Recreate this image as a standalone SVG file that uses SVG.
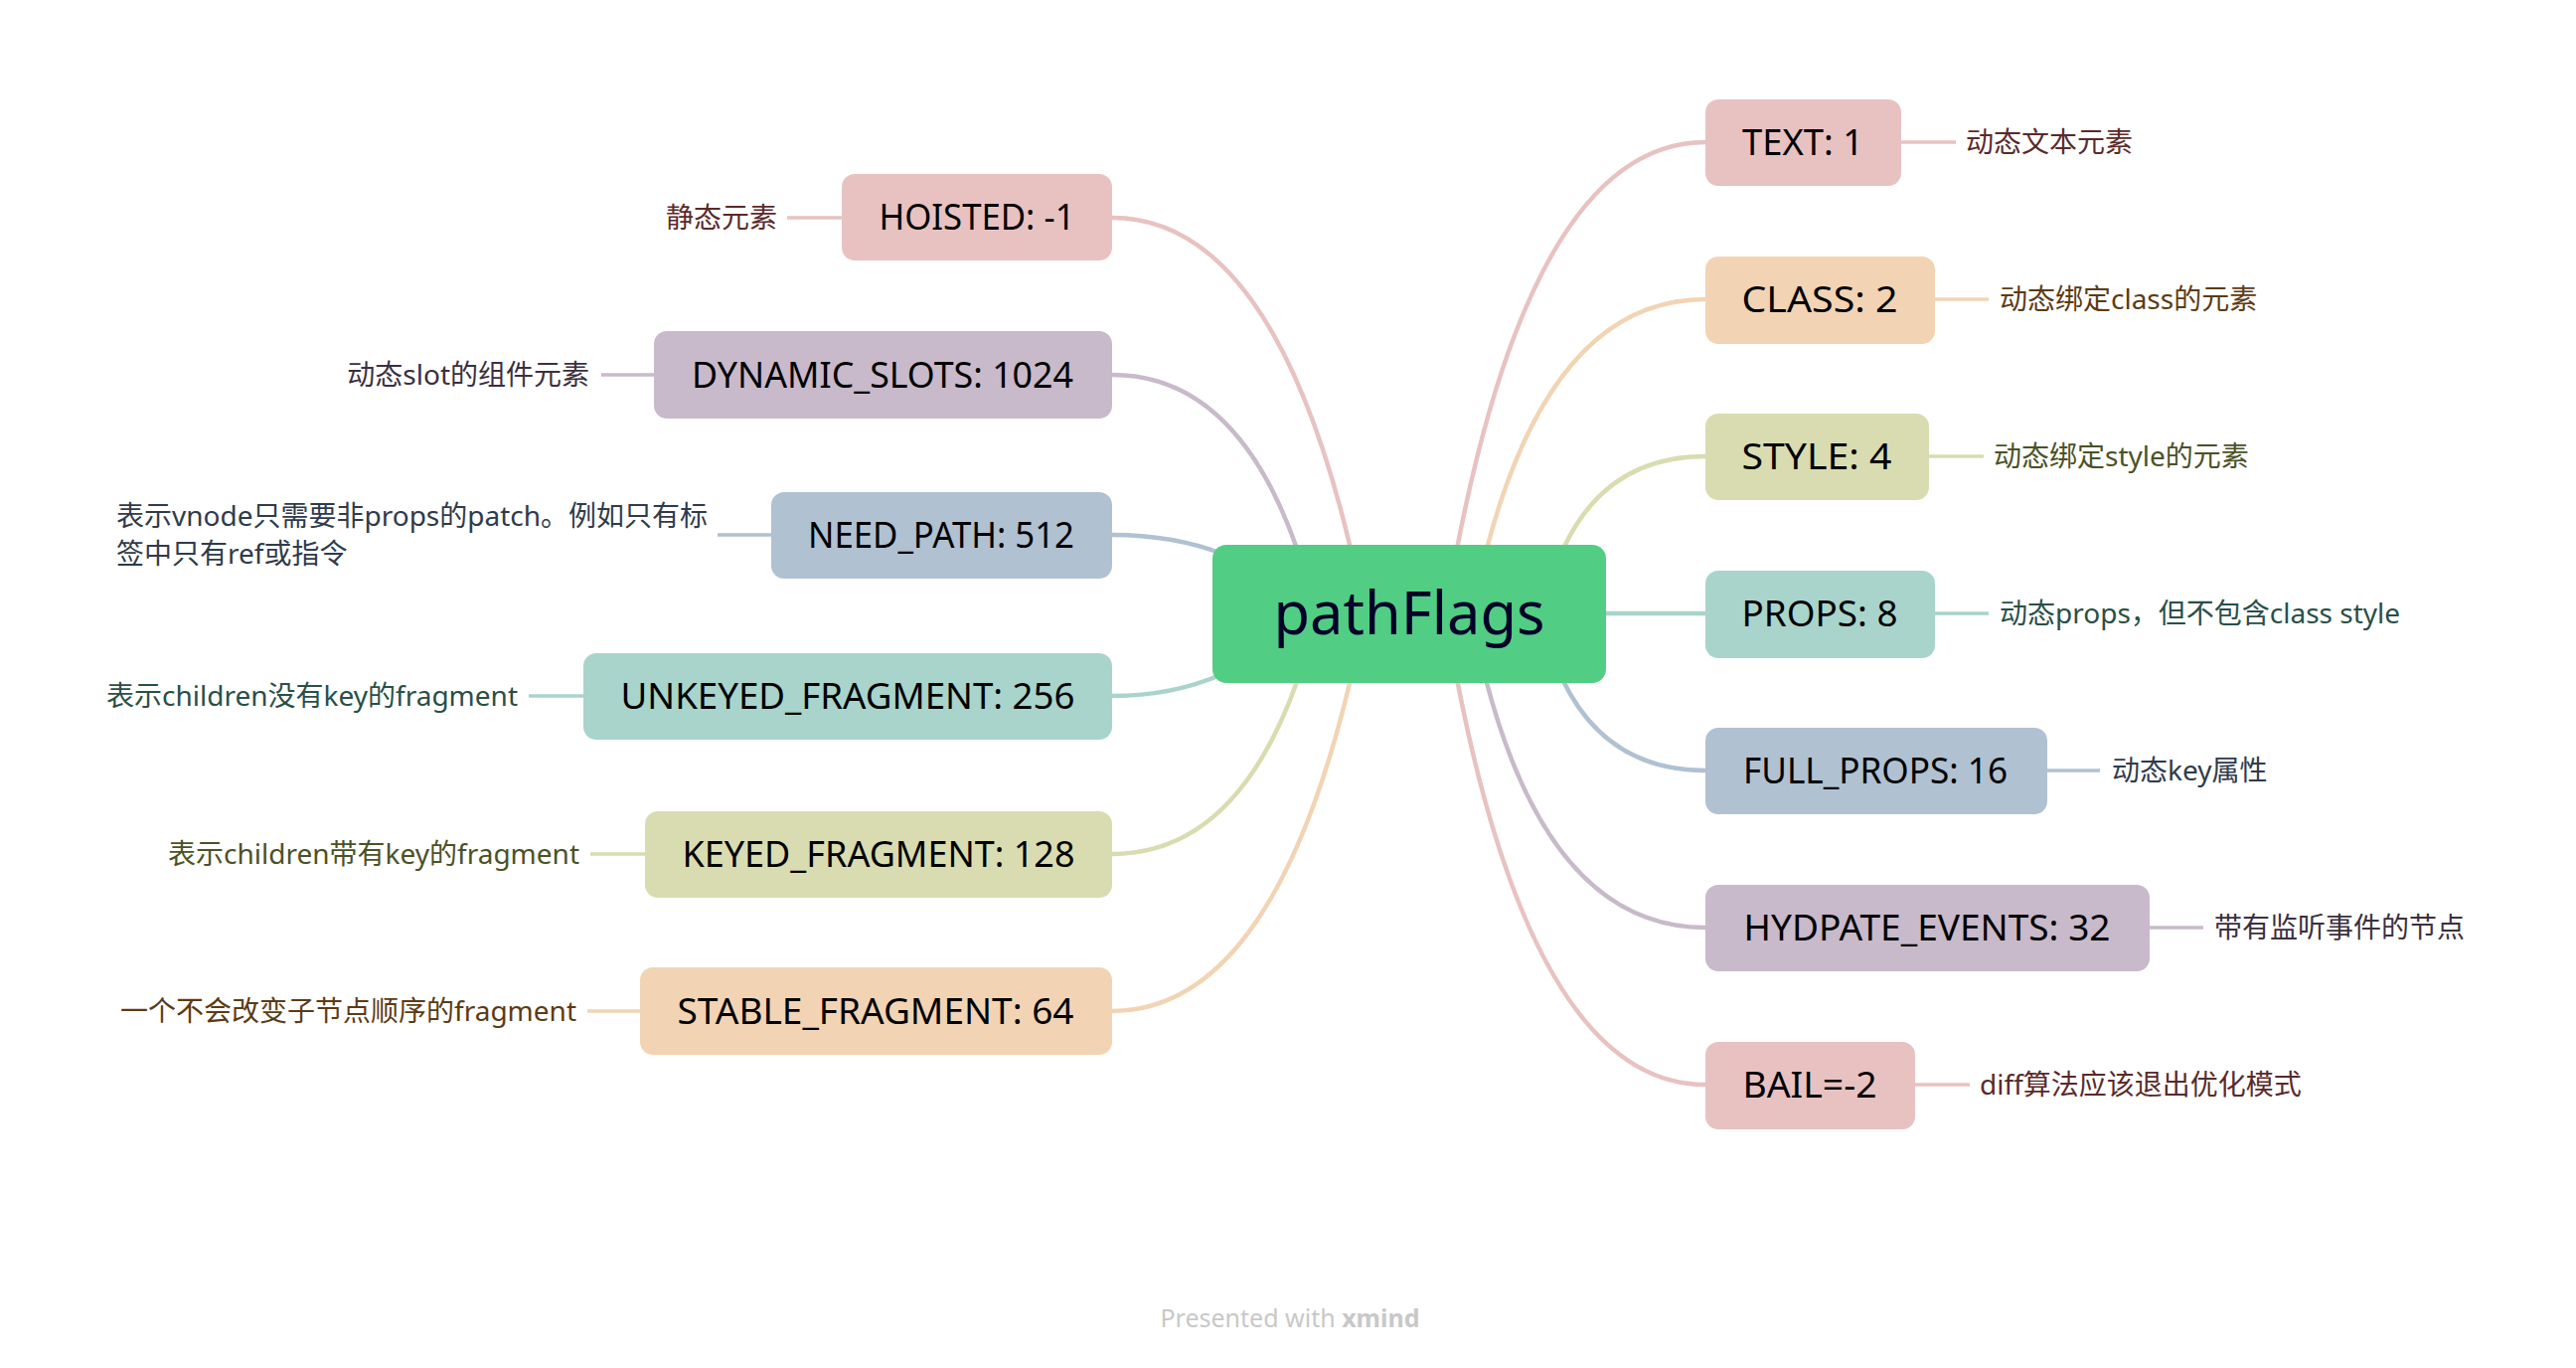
<svg xmlns="http://www.w3.org/2000/svg" width="2592" height="1376" viewBox="0 0 2592 1376">
<style>
.bg{fill:#ffffff}
.c{fill:none;stroke-width:4.5;stroke-linecap:round}
.l{fill:none;stroke-width:3.5}
.nt{font-family:"Noto Sans","Liberation Sans",sans-serif;font-size:37px;fill:#000000;text-anchor:middle}
.lb{font-family:"Noto Sans","Noto Sans CJK SC",sans-serif;font-size:28px}
.pk{fill:#E8C2C1}.pks{stroke:#E8C2C1}.pkt{fill:#5a2a2a}
.pe{fill:#F2D4B4}.pes{stroke:#F2D4B4}.pet{fill:#5c3b14}
.gr{fill:#D9DCB0}.grs{stroke:#D9DCB0}.grt{fill:#4a5226}
.te{fill:#A9D4CB}.tes{stroke:#A9D4CB}.tet{fill:#2a4f47}
.bl{fill:#B0C1D2}.bls{stroke:#B0C1D2}.blt{fill:#2f3b4c}
.pu{fill:#C8BACA}.pus{stroke:#C8BACA}.put{fill:#3b3040}
</style>
<rect class="bg" x="0" y="0" width="2592" height="1376"/>
<g id="connectors">
<path class="c pks" d="M1119,219 Q1280,219 1359,552"/>
<path class="c pus" d="M1119,377 Q1244,377 1305,552"/>
<path class="c bls" d="M1119,538 Q1180,538 1230,557"/>
<path class="c tes" d="M1119,700 Q1180,700 1230,678"/>
<path class="c grs" d="M1119,859 Q1244,859 1306,683"/>
<path class="c pes" d="M1119,1017 Q1280,1017 1359,683"/>
<path class="c pks" d="M1716,143 Q1545,143 1466,552"/>
<path class="c pes" d="M1716,301 Q1562,301 1496,552"/>
<path class="c grs" d="M1716,459 Q1616,459 1573,552"/>
<path class="c tes" d="M1610,617 L1716,617"/>
<path class="c bls" d="M1716,775 Q1616,775 1572,683"/>
<path class="c pus" d="M1716,933 Q1560,933 1495,683"/>
<path class="c pks" d="M1716,1091 Q1545,1091 1466,683"/>
<path class="l pks" d="M792,219 L847,219"/>
<path class="l pus" d="M605,377 L658,377"/>
<path class="l bls" d="M722,538 L776,538"/>
<path class="l tes" d="M532,700 L587,700"/>
<path class="l grs" d="M594,859 L649,859"/>
<path class="l pes" d="M591,1017 L644,1017"/>
<path class="l pks" d="M1913,143 L1968,143"/>
<path class="l pes" d="M1947,301 L2001,301"/>
<path class="l grs" d="M1941,459 L1996,459"/>
<path class="l tes" d="M1947,617 L2001,617"/>
<path class="l bls" d="M2060,775 L2113,775"/>
<path class="l pus" d="M2163,933 L2217,933"/>
<path class="l pks" d="M1927,1091 L1982,1091"/>
</g>
<g id="root">
<rect x="1220" y="548" width="396" height="139" rx="14" fill="#52CD84"/>
<text x="1418" y="638" font-family="Noto Sans, Liberation Sans, sans-serif" font-size="61" fill="#03002a" text-anchor="middle" textLength="273" lengthAdjust="spacingAndGlyphs">pathFlags</text>
</g>
<g id="hoisted">
<rect class="pk" x="847" y="175" width="272" height="87" rx="13"/>
<text class="nt" x="983" y="231" textLength="197" lengthAdjust="spacingAndGlyphs">HOISTED: -1</text>
<text class="lb pkt" x="782" y="229" text-anchor="end">静态元素</text>
</g>
<g id="dynamic_slots">
<rect class="pu" x="658" y="333" width="461" height="88" rx="13"/>
<text class="nt" x="888" y="390" textLength="384" lengthAdjust="spacingAndGlyphs">DYNAMIC_SLOTS: 1024</text>
<text class="lb put" x="593" y="387" text-anchor="end">动态slot的组件元素</text>
</g>
<g id="need_path">
<rect class="bl" x="776" y="495" width="343" height="87" rx="13"/>
<text class="nt" x="947" y="551" textLength="268" lengthAdjust="spacingAndGlyphs">NEED_PATH: 512</text>
<text class="lb blt" x="117" y="529">表示vnode只需要非props的patch。例如只有标</text>
<text class="lb blt" x="117" y="567">签中只有ref或指令</text>
</g>
<g id="unkeyed_fragment">
<rect class="te" x="587" y="657" width="532" height="87" rx="13"/>
<text class="nt" x="853" y="713" textLength="457" lengthAdjust="spacingAndGlyphs">UNKEYED_FRAGMENT: 256</text>
<text class="lb tet" x="521" y="710" text-anchor="end">表示children没有key的fragment</text>
</g>
<g id="keyed_fragment">
<rect class="gr" x="649" y="816" width="470" height="87" rx="13"/>
<text class="nt" x="884" y="872" textLength="395" lengthAdjust="spacingAndGlyphs">KEYED_FRAGMENT: 128</text>
<text class="lb grt" x="583" y="869" text-anchor="end">表示children带有key的fragment</text>
</g>
<g id="stable_fragment">
<rect class="pe" x="644" y="973" width="475" height="88" rx="13"/>
<text class="nt" x="881" y="1030" textLength="399" lengthAdjust="spacingAndGlyphs">STABLE_FRAGMENT: 64</text>
<text class="lb pet" x="580" y="1027" text-anchor="end">一个不会改变子节点顺序的fragment</text>
</g>
<g id="text">
<rect class="pk" x="1716" y="100" width="197" height="87" rx="13"/>
<text class="nt" x="1814" y="156" textLength="122" lengthAdjust="spacingAndGlyphs">TEXT: 1</text>
<text class="lb pkt" x="1978" y="153">动态文本元素</text>
</g>
<g id="class">
<rect class="pe" x="1716" y="258" width="231" height="88" rx="13"/>
<text class="nt" x="1831" y="314" textLength="157" lengthAdjust="spacingAndGlyphs">CLASS: 2</text>
<text class="lb pet" x="2012" y="311">动态绑定class的元素</text>
</g>
<g id="style">
<rect class="gr" x="1716" y="416" width="225" height="87" rx="13"/>
<text class="nt" x="1828" y="472" textLength="151" lengthAdjust="spacingAndGlyphs">STYLE: 4</text>
<text class="lb grt" x="2006" y="469">动态绑定style的元素</text>
</g>
<g id="props">
<rect class="te" x="1716" y="574" width="231" height="88" rx="13"/>
<text class="nt" x="1831" y="630" textLength="157" lengthAdjust="spacingAndGlyphs">PROPS: 8</text>
<text class="lb tet" x="2012" y="627">动态props，但不包含class style</text>
</g>
<g id="full_props">
<rect class="bl" x="1716" y="732" width="344" height="87" rx="13"/>
<text class="nt" x="1887" y="788" textLength="266" lengthAdjust="spacingAndGlyphs">FULL_PROPS: 16</text>
<text class="lb blt" x="2125" y="785">动态key属性</text>
</g>
<g id="hydpate_events">
<rect class="pu" x="1716" y="890" width="447" height="87" rx="13"/>
<text class="nt" x="1939" y="946" textLength="369" lengthAdjust="spacingAndGlyphs">HYDPATE_EVENTS: 32</text>
<text class="lb put" x="2228" y="943">带有监听事件的节点</text>
</g>
<g id="bail">
<rect class="pk" x="1716" y="1048" width="211" height="88" rx="13"/>
<text class="nt" x="1821" y="1104" textLength="135" lengthAdjust="spacingAndGlyphs">BAIL=-2</text>
<text class="lb pkt" x="1992" y="1101">diff算法应该退出优化模式</text>
</g>
<text x="1298" y="1335" font-family="Noto Sans, Liberation Sans, sans-serif" font-size="25" fill="#c8c8c8" text-anchor="middle">Presented with <tspan font-weight="bold">xmind</tspan></text>
</svg>
